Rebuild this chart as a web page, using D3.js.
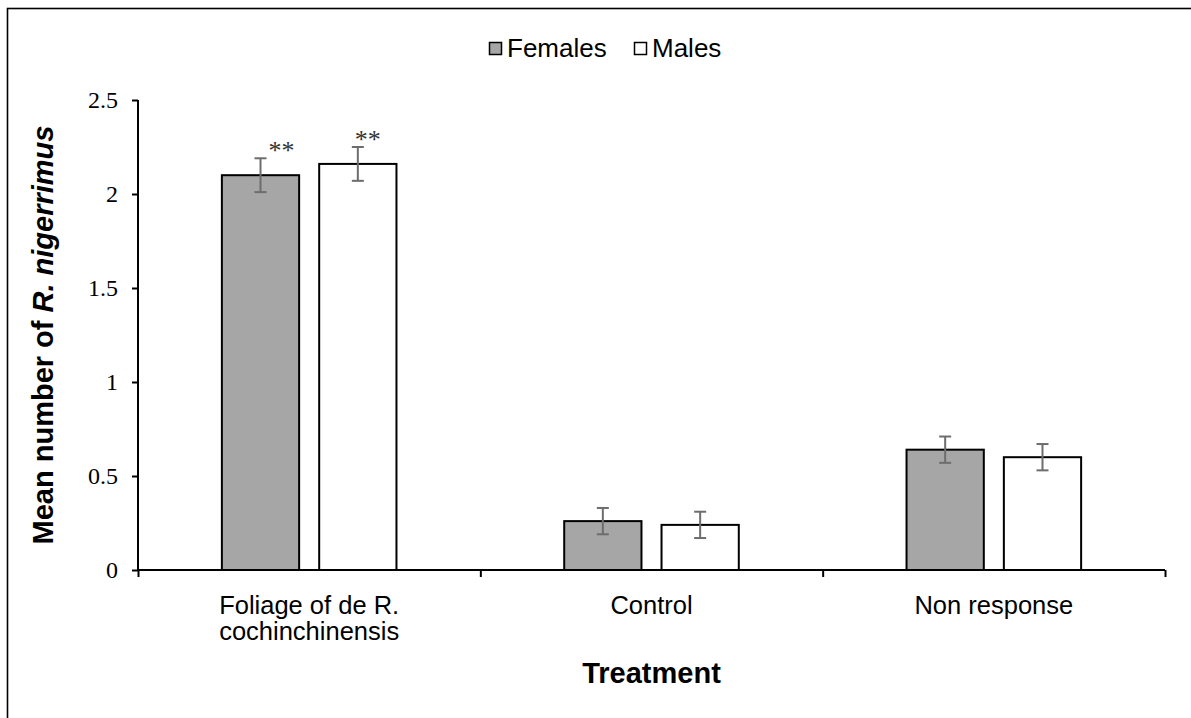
<!DOCTYPE html>
<html>
<head>
<meta charset="utf-8">
<script src="https://cdn.jsdelivr.net/npm/d3@7"></script>
<style>
  html, body { margin: 0; padding: 0; background: #fff; }
  svg { display: block; }
</style>
</head>
<body>
<svg id="chart" width="1191" height="718"></svg>
<script>
// ---- data ----
const categories = ["Foliage of de R. cochinchinensis", "Control", "Non response"];
const categoryLines = [["Foliage of de R.", "cochinchinensis"], ["Control"], ["Non response"]];
const series = ["Females", "Males"];
const femalesValues = [2.10, 0.26, 0.64];
const malesValues = [2.16, 0.24, 0.60];
const femalesErrors = [0.09, 0.07, 0.07];
const malesErrors = [0.09, 0.07, 0.07];
const femalesSignif = ["**", "", ""];
const malesSignif = ["**", "", ""];
const yTicks = [0, 0.5, 1, 1.5, 2, 2.5];
const yTickLabels = ["0", "0.5", "1", "1.5", "2", "2.5"];

// ---- styles ----
const fills = { Females: "#a6a6a6", Males: "#ffffff" };
const errColor = "#6d6d6d";
const sans = "'Liberation Sans', Arial, sans-serif";
const serif = "'Liberation Serif', 'Times New Roman', serif";
const sigDx = { Females: 21, Males: 10 };

const svg = d3.select("#chart");

// frame
svg.append("rect").attr("x", 7.5).attr("y", 8.5).attr("width", 1200).attr("height", 720)
  .attr("fill", "none").attr("stroke", "#000").attr("stroke-width", 1.6);

const plotLeft = 138, plotRight = 1165, plotTop = 100, plotBottom = 570;

const y = d3.scaleLinear().domain([0, 2.5]).range([plotBottom, plotTop]);
const x0 = d3.scaleBand().domain(categories).range([plotLeft, plotRight]).paddingInner(0.49).paddingOuter(0.245);
const x1 = d3.scaleBand().domain(series).range([0, x0.bandwidth()]).paddingInner(0.206).paddingOuter(0);

const rows = categories.map((c, i) => ({
  cat: c,
  items: [
    { s: "Females", v: femalesValues[i], e: femalesErrors[i], sig: femalesSignif[i] },
    { s: "Males", v: malesValues[i], e: malesErrors[i], sig: malesSignif[i] }
  ]
}));

// bars
const g = svg.append("g");
const groups = g.selectAll("g.cat").data(rows).join("g")
  .attr("class", "cat")
  .attr("transform", d => `translate(${x0(d.cat)},0)`);

groups.selectAll("rect").data(d => d.items).join("rect")
  .attr("x", d => x1(d.s))
  .attr("y", d => y(d.v))
  .attr("width", x1.bandwidth())
  .attr("height", d => y(0) - y(d.v))
  .attr("fill", d => fills[d.s])
  .attr("stroke", "#000")
  .attr("stroke-width", 2);

// error bars
const eb = groups.selectAll("g.err").data(d => d.items).join("g").attr("class", "err")
  .attr("stroke", errColor).attr("stroke-width", 2);
const cx = d => x1(d.s) + x1.bandwidth() / 2;
eb.append("line")
  .attr("x1", cx).attr("x2", cx)
  .attr("y1", d => y(d.v + d.e)).attr("y2", d => y(d.v - d.e));
eb.append("line")
  .attr("x1", d => cx(d) - 6).attr("x2", d => cx(d) + 6)
  .attr("y1", d => y(d.v + d.e)).attr("y2", d => y(d.v + d.e));
eb.append("line")
  .attr("x1", d => cx(d) - 6).attr("x2", d => cx(d) + 6)
  .attr("y1", d => y(d.v - d.e)).attr("y2", d => y(d.v - d.e));

// significance
groups.selectAll("text.sig").data(d => d.items.filter(it => it.sig)).join("text")
  .attr("class", "sig")
  .attr("x", d => cx(d) + sigDx[d.s])
  .attr("y", d => y(d.v + d.e) + 1)
  .attr("text-anchor", "middle")
  .attr("font-family", serif).attr("font-size", 26).attr("fill", "#333")
  .text(d => d.sig);

// y axis
const yAxis = svg.append("g").attr("transform", `translate(${plotLeft},0)`)
  .call(d3.axisLeft(y).tickValues(yTicks).tickSize(6).tickPadding(14)
    .tickFormat((d, i) => yTickLabels[i]));
yAxis.select(".domain").attr("stroke", "#000").attr("stroke-width", 2).attr("d", `M0,${plotTop}V${plotBottom}`);
yAxis.selectAll(".tick line").attr("stroke", "#000").attr("stroke-width", 2);
yAxis.selectAll(".tick text").attr("font-family", serif).attr("font-size", 24).attr("fill", "#000");

// x axis (category boundaries)
const xb = d3.scaleLinear().domain([0, categories.length]).range([plotLeft, plotRight]);
const xAxis = svg.append("g").attr("transform", `translate(0,${plotBottom})`)
  .call(d3.axisBottom(xb).tickValues(d3.range(categories.length + 1)).tickSize(7).tickFormat(""));
xAxis.select(".domain").attr("stroke", "#000").attr("stroke-width", 2).attr("d", `M${plotLeft},0H${plotRight}`);
xAxis.selectAll(".tick line").attr("stroke", "#000").attr("stroke-width", 2);

// category labels
categories.forEach((c, i) => {
  const t = svg.append("text")
    .attr("x", x0(c) + x0.bandwidth() / 2)
    .attr("y", 614)
    .attr("text-anchor", "middle")
    .attr("font-family", sans).attr("font-size", 25.5).attr("fill", "#000");
  categoryLines[i].forEach((line, j) => {
    t.append("tspan").attr("x", x0(c) + x0.bandwidth() / 2).attr("dy", j === 0 ? 0 : 26).text(line);
  });
});

// axis titles
svg.append("text")
  .attr("x", (plotLeft + plotRight) / 2).attr("y", 683)
  .attr("text-anchor", "middle")
  .attr("font-family", sans).attr("font-size", 29).attr("font-weight", "bold")
  .text("Treatment");

const yt = svg.append("text")
  .attr("transform", `translate(53,${(plotTop + plotBottom) / 2}) rotate(-90)`)
  .attr("text-anchor", "middle")
  .attr("font-family", sans).attr("font-size", 29).attr("font-weight", "bold");
yt.append("tspan").text("Mean number of ");
yt.append("tspan").attr("font-style", "italic").text("R. nigerrimus");

// legend
const legend = svg.append("g").attr("transform", "translate(489,42)");
const legX = { Females: 0, Males: 145 };
series.forEach(s => {
  const lg = legend.append("g").attr("transform", `translate(${legX[s]},0)`);
  lg.append("rect").attr("x", 0.5).attr("y", 0.5).attr("width", 12).attr("height", 12)
    .attr("fill", fills[s]).attr("stroke", "#000").attr("stroke-width", 1.5);
  lg.append("text").attr("x", 18).attr("y", 15)
    .attr("font-family", sans).attr("font-size", 26).attr("fill", "#000")
    .text(s);
});
</script>
</body>
</html>
